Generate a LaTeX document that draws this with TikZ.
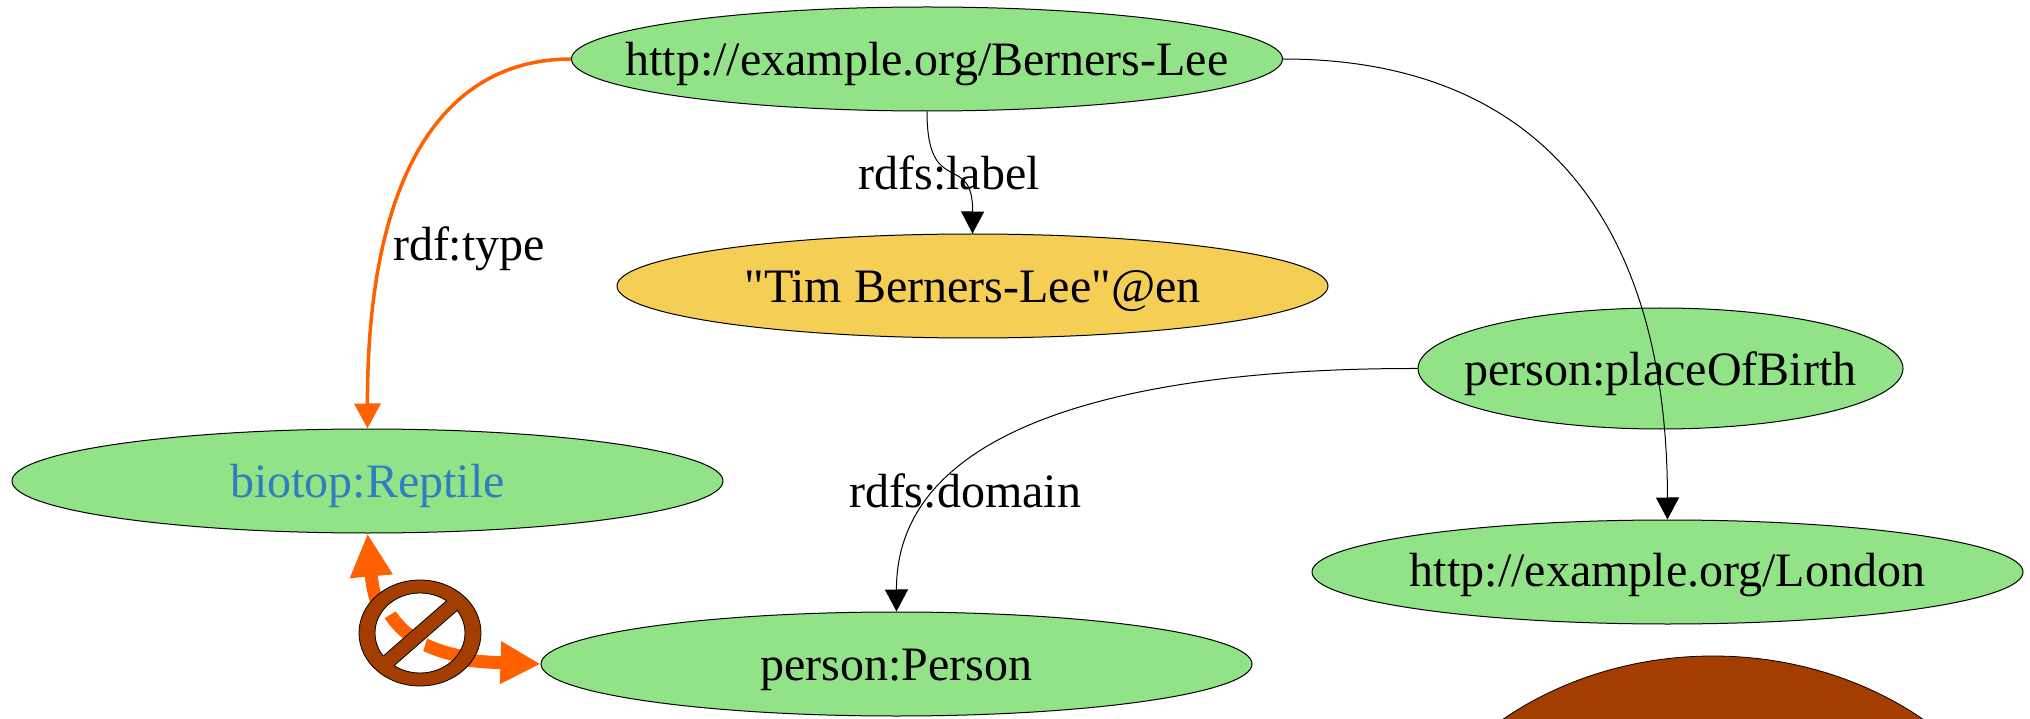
\documentclass[tikz,border=0pt]{standalone}
\usepackage{fontspec}
\setmainfont{Liberation Serif}
\newfontfamily\plainquotes{Liberation Serif}
\usetikzlibrary{shapes.geometric,arrows.meta}
\definecolor{nodegreen}{HTML}{92E288}
\definecolor{nodeyellow}{HTML}{F5CE55}
\definecolor{alertorange}{HTML}{FF6000}
\definecolor{signbrown}{HTML}{A33E00}
\definecolor{iriblue}{HTML}{2E7FBF}
\newcommand{\ztext}[2][17pt]{\makebox[0pt][c]{\raisebox{-#1}[0pt][0pt]{#2}}}
\newcommand{\conflictcurve}{(367,534) .. controls (377,640) and (420,660) .. (541,664)}
\tikzset{
  rdfnode/.style={ellipse,draw=black,line width=1pt,inner sep=0pt,font=\fontsize{48}{50}\selectfont,text=black},
  wide/.style={rdfnode,minimum width=711pt,minimum height=104pt},
  thinedge/.style={draw=black,line width=1pt,-{Triangle[length=22pt,width=23pt]}},
  typeedge/.style={draw=alertorange,line width=3.5pt,-{Triangle[length=25pt,width=26pt]}},
  conflictedge/.style={draw=alertorange,line width=13pt},
  edgelabel/.style={inner sep=0pt,anchor=base,font=\fontsize{48}{50}\selectfont},
  signpart/.style={fill=signbrown,draw=black,line width=0.8pt},
  signedge/.style={draw=black,line width=0.8pt}
}
\begin{document}
\begin{tikzpicture}[x=1pt,y=-1pt]
\useasboundingbox (0,0) rectangle (2030,719);
\fill[white] (0,0) rectangle (2030,719);
% nodes
\node[wide,fill=nodegreen] (bl) at (927,59) {\ztext{http://example.org/Berners-Lee}};
\node[wide,fill=nodeyellow] (tim) at (972.5,286) {\ztext{\plainquotes"Tim Berners-Lee"@en}};
\node[rdfnode,fill=nodegreen,minimum width=485pt,minimum height=121pt] (pob) at (1660.5,368.5) {\ztext{person:placeOfBirth}};
\node[wide,fill=nodegreen,text=iriblue] (rep) at (367.5,481) {\ztext[16pt]{biotop:Reptile}};
\node[wide,fill=nodegreen] (lon) at (1667.5,572) {\ztext[14.5pt]{http://example.org/London}};
\node[wide,fill=nodegreen] (per) at (896.5,664) {\ztext[16pt]{person:Person}};
% edges
\draw[typeedge] (bl.west) .. controls (440,59) and (367,180) .. (rep.north);
\draw[thinedge] (bl.south) .. controls (927,200) and (973,150) .. (tim.north);
\draw[thinedge] (bl.east) .. controls (1540,59) and (1667,222) .. (lon.north);
\draw[thinedge] (pob.west) .. controls (1130,368) and (896,425) .. (per.north);
% conflict arrow
\draw[conflictedge,{Triangle[length=43pt,width=40pt]}-{Triangle[length=40pt,width=40pt]}] (rep.south) .. controls (377,640) and (420,660) .. (per.west);
% labels
\node[edgelabel] (l1) at (469,261) {rdf:type};
\node[edgelabel] (l2) at (949,189.5) {rdfs:label};
\node[edgelabel] (l3) at (965,507) {rdfs:domain};
% prohibition sign: white hole, visible pieces of the arrow, ring, bar
\fill[white] (420,633) ellipse [x radius=46,y radius=41];
\begin{scope}
\clip (380,621) -- (398,610) -- (440,620) -- (395,665) -- cycle;
\draw[conflictedge] \conflictcurve;
\end{scope}
\begin{scope}
\clip (428,636) -- (421,658) -- (470,675) -- (480,630) -- cycle;
\draw[conflictedge] \conflictcurve;
\end{scope}
\path[signpart,even odd rule] (420,633) ellipse [x radius=61,y radius=53] (420,633) ellipse [x radius=45,y radius=40];
\fill[signbrown] (379,660) -- (451,597) -- (462,606) -- (390,669) -- cycle;
\draw[signedge] (383.3,656) -- (446.7,600.7);
\draw[signedge] (394,665.7) -- (457.7,610);
% large clipped sign
\begin{scope}
\clip (0,0) rectangle (2030,719);
\path[signpart] (1713,952) ellipse [x radius=340,y radius=296];
\end{scope}
\end{tikzpicture}
\end{document}
